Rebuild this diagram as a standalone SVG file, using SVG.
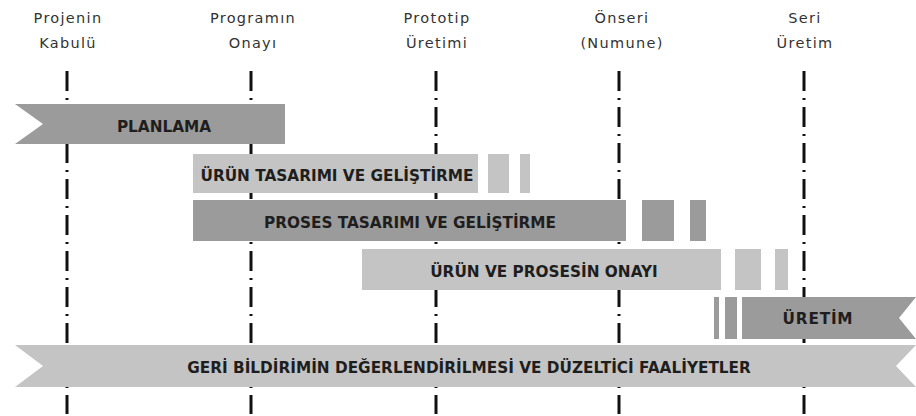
<svg xmlns="http://www.w3.org/2000/svg" width="916" height="416" viewBox="0 0 916 416">
<style>
.lbl{font-family:"DejaVu Sans","Liberation Sans",sans-serif;font-size:14.5px;letter-spacing:1.3px;fill:#333;text-anchor:middle}
.bt{font-family:"DejaVu Sans","Liberation Sans",sans-serif;font-size:15.3px;font-weight:bold;fill:#1e1e1e;text-anchor:middle}
.dark{fill:#9b9b9b}
.light{fill:#c4c4c4}
.ms{stroke:#111;stroke-width:3;stroke-dasharray:20 7 2 7;fill:none}
</style>
<rect width="916" height="416" fill="#fff"/>
<g id="milestones">
<g id="m1"><text class="lbl" x="68" y="23">Projenin</text><text class="lbl" x="68" y="48">Kabulü</text></g>
<g id="m2"><text class="lbl" x="253" y="23">Programın</text><text class="lbl" x="253" y="48">Onayı</text></g>
<g id="m3"><text class="lbl" x="437" y="23">Prototip</text><text class="lbl" x="437" y="48">Üretimi</text></g>
<g id="m4"><text class="lbl" x="622" y="23">Önseri</text><text class="lbl" x="622" y="48">(Numune)</text></g>
<g id="m5"><text class="lbl" x="805" y="23">Seri</text><text class="lbl" x="805" y="48">Üretim</text></g>
</g>
<g id="connectors">
<line class="ms" x1="67" y1="71" x2="67" y2="414"/>
<line class="ms" x1="251" y1="71" x2="251" y2="414"/>
<line class="ms" x1="436" y1="71" x2="436" y2="414"/>
<line class="ms" x1="619" y1="71" x2="619" y2="414"/>
<line class="ms" x1="804" y1="71" x2="804" y2="414"/>
</g>
<g id="planlama">
<polygon class="dark" points="15,104 285,104 285,144 15,144 43,124"/>
<text class="bt" x="164" y="132">PLANLAMA</text>
</g>
<g id="urun-tasarimi">
<rect class="light" x="193" y="154" width="285" height="39"/>
<rect class="light" x="488" y="154" width="21" height="39"/>
<rect class="light" x="520" y="154" width="10" height="39"/>
<text class="bt" x="337" y="181">ÜRÜN TASARIMI VE GELİŞTİRME</text>
</g>
<g id="proses-tasarimi">
<rect class="dark" x="193" y="200" width="433" height="41"/>
<rect class="dark" x="642" y="200" width="32" height="41"/>
<rect class="dark" x="690" y="200" width="16" height="41"/>
<text class="bt" x="410" y="228">PROSES TASARIMI VE GELİŞTİRME</text>
</g>
<g id="onay">
<rect class="light" x="362" y="249" width="359" height="41"/>
<rect class="light" x="735" y="249" width="26" height="41"/>
<rect class="light" x="775" y="249" width="13" height="41"/>
<text class="bt" x="544" y="277">ÜRÜN VE PROSESİN ONAYI</text>
</g>
<g id="uretim">
<rect class="dark" x="714" y="297" width="5" height="42"/>
<rect class="dark" x="725" y="297" width="12" height="42"/>
<polygon class="dark" points="742,297 916,297 899,318 916,339 742,339"/>
<text class="bt" x="818" y="324" style="letter-spacing:0.8px">ÜRETİM</text>
</g>
<g id="geri-bildirim">
<polygon class="light" points="15,345 916,345 896,366 916,387 15,387 43,366"/>
<text class="bt" x="469" y="373">GERİ BİLDİRİMİN DEĞERLENDİRİLMESİ VE DÜZELTİCİ FAALİYETLER</text>
</g>
</svg>
